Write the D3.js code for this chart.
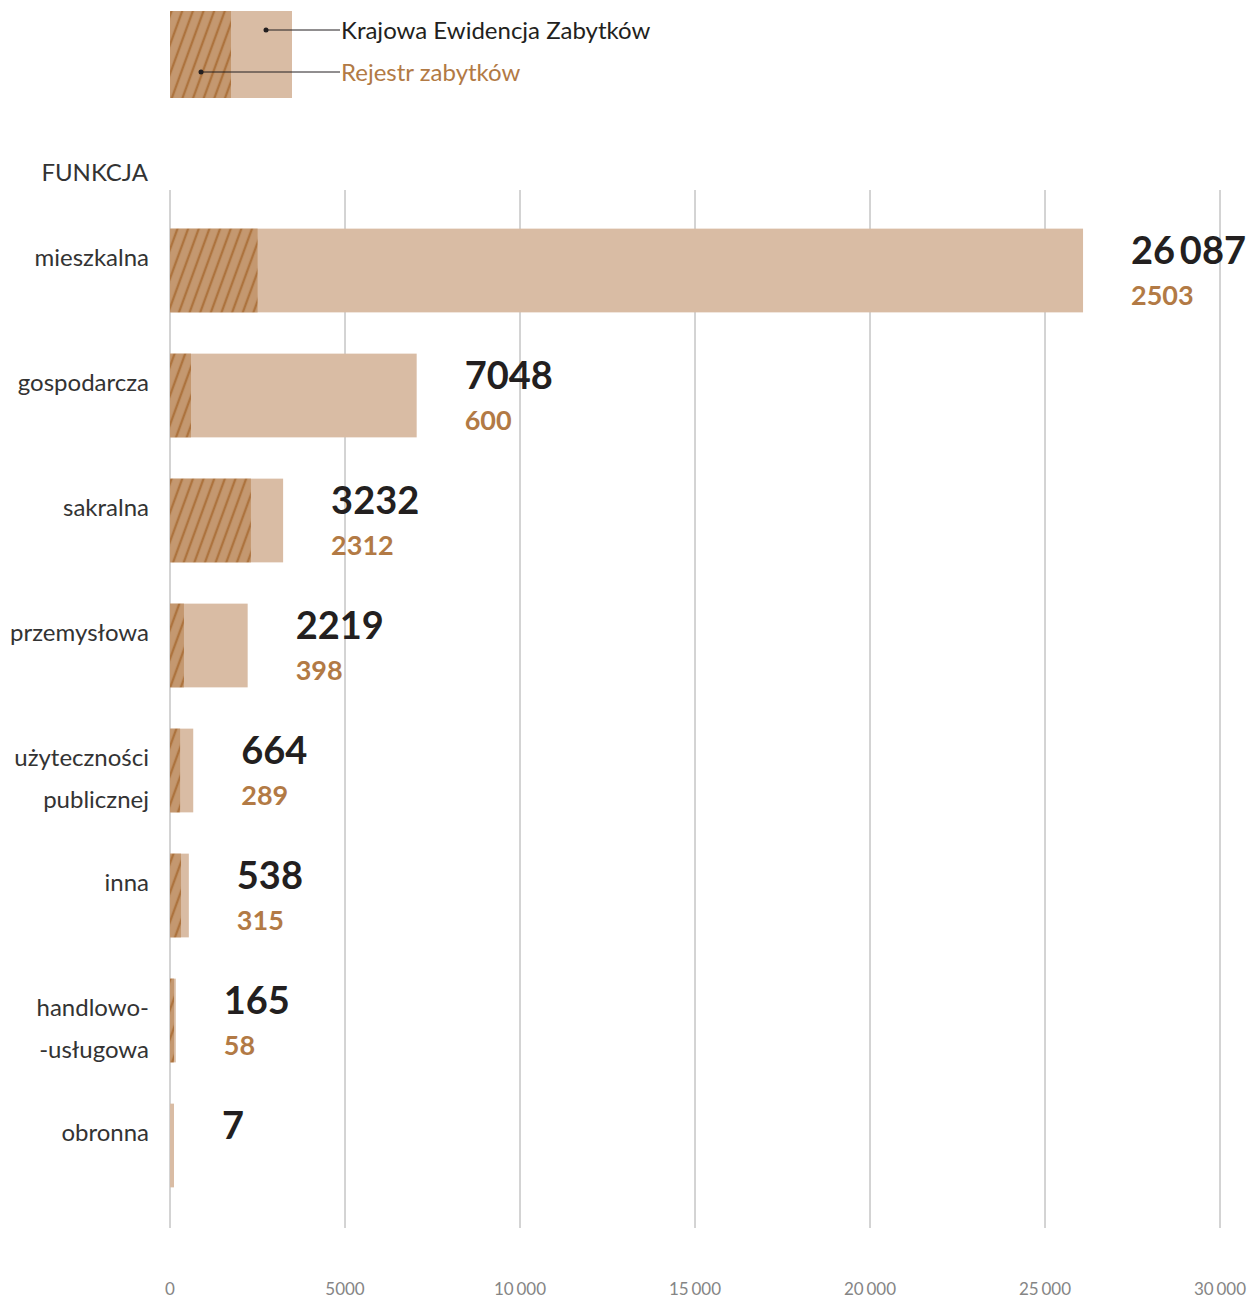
<!DOCTYPE html>
<html lang="pl">
  <head>
    <meta charset="UTF-8" />
    <title>Zabytki wg funkcji</title>
    <style>
      body { margin: 0; background: #fff; }
      svg text { font-family: Lato, "Open Sans", sans-serif; }
    </style>
  </head>
  <body>
    <svg id="chart" width="1254" height="1298"></svg>
    <script src="https://d3js.org/d3.v7.min.js"></script>
    <script>
      // dane
      var categories = [
        ["mieszkalna"],
        ["gospodarcza"],
        ["sakralna"],
        ["przemysłowa"],
        ["użyteczności", "publicznej"],
        ["inna"],
        ["handlowo-", "-usługowa"],
        ["obronna"]
      ];
      var kezValues = [26087, 7048, 3232, 2219, 664, 538, 165, 7];
      var rejestrValues = [2503, 600, 2312, 398, 289, 315, 58, null];
      var xTicks = [0, 5000, 10000, 15000, 20000, 25000, 30000];

      var light = "#d9bca4";
      var hatchBg = "#c49870";
      var hatchLine = "#ad733e";
      var orange = "#b27a45";
      var dark = "#231f20";

      var svg = d3.select("#chart");

      // wzór kreskowania
      var defs = svg.append("defs");
      var pat = defs.append("pattern")
        .attr("id", "hatch")
        .attr("patternUnits", "userSpaceOnUse")
        .attr("width", 10)
        .attr("height", 10)
        .attr("patternTransform", "rotate(20)");
      pat.append("rect").attr("width", 10).attr("height", 10).attr("fill", hatchBg);
      pat.append("line")
        .attr("x1", 5).attr("x2", 5).attr("y1", 0).attr("y2", 10)
        .attr("stroke", hatchLine).attr("stroke-width", 2.4);

      function fmt(v, sep) {
        var s = String(v);
        if (v < 10000) return s;
        return s.replace(/\B(?=(\d{3})+(?!\d))/g, sep || "\u2009");
      }

      var x = d3.scaleLinear().domain([0, 30000]).range([170, 1220]);
      var y = d3.scaleBand()
        .domain(d3.range(categories.length))
        .range([208, 1208])
        .paddingInner(0.33)
        .paddingOuter(0.165);

      // siatka
      svg.append("g")
        .selectAll("line")
        .data(xTicks)
        .join("line")
        .attr("x1", d => x(d)).attr("x2", d => x(d))
        .attr("y1", 190).attr("y2", 1228)
        .attr("stroke", "#a8a8a8")
        .attr("stroke-width", 1);

      svg.append("g")
        .selectAll("text")
        .data(xTicks)
        .join("text")
        .attr("x", d => x(d))
        .attr("y", 1295)
        .attr("text-anchor", "middle")
        .attr("font-size", 17)
        .attr("fill", "#858585")
        .text(d => fmt(d, "\u2006"));

      // słupki
      var bars = svg.append("g");
      bars.selectAll("rect.kez")
        .data(kezValues)
        .join("rect")
        .attr("class", "kez")
        .attr("x", x(0))
        .attr("y", (d, i) => y(i))
        .attr("width", d => Math.max(x(d) - x(0), 4))
        .attr("height", y.bandwidth())
        .attr("fill", light);

      bars.selectAll("rect.rej")
        .data(rejestrValues.map((v, i) => ({ v: v, i: i })).filter(d => d.v != null))
        .join("rect")
        .attr("class", "rej")
        .attr("x", x(0))
        .attr("y", d => y(d.i))
        .attr("width", d => Math.max(x(d.v) - x(0), 4))
        .attr("height", y.bandwidth())
        .attr("fill", "url(#hatch)");

      // etykiety kategorii
      svg.append("text")
        .attr("x", 148).attr("y", 181)
        .attr("text-anchor", "end")
        .attr("font-size", 24)
        .attr("fill", "#333")
        .text("FUNKCJA");

      var catG = svg.append("g");
      categories.forEach(function (lines, i) {
        var cy = y(i) + y.bandwidth() / 2;
        var t = catG.append("text")
          .attr("text-anchor", "end")
          .attr("font-size", 24)
          .attr("fill", "#333");
        lines.forEach(function (l, j) {
          t.append("tspan")
            .attr("x", 149)
            .attr("y", cy - 5 + j * 42)
            .text(l);
        });
      });

      // wartości
      var valG = svg.append("g");
      kezValues.forEach(function (v, i) {
        var cy = y(i) + y.bandwidth() / 2;
        var lx = Math.max(x(v), x(0) + 4) + 48;
        valG.append("text")
          .attr("x", lx)
          .attr("y", cy - 7)
          .attr("font-size", 38)
          .attr("font-weight", "bold")
          .attr("fill", dark)
          .text(fmt(v));
        if (rejestrValues[i] != null) {
          valG.append("text")
            .attr("x", lx)
            .attr("y", cy + 34)
            .attr("font-size", 27)
            .attr("font-weight", "bold")
            .attr("fill", orange)
            .text(fmt(rejestrValues[i]));
        }
      });

      // legenda
      var lg = svg.append("g");
      lg.append("rect").attr("x", 170).attr("y", 11).attr("width", 61).attr("height", 87).attr("fill", "url(#hatch)");
      lg.append("rect").attr("x", 231).attr("y", 11).attr("width", 61).attr("height", 87).attr("fill", light);
      var legendItems = [
        { label: "Krajowa Ewidencja Zabytków", dx: 266, dy: 30, color: dark },
        { label: "Rejestr zabytków", dx: 201, dy: 72, color: orange }
      ];
      legendItems.forEach(function (d) {
        lg.append("line")
          .attr("x1", d.dx).attr("x2", 340)
          .attr("y1", d.dy).attr("y2", d.dy)
          .attr("stroke", "#231f20").attr("stroke-width", 1);
        lg.append("circle").attr("cx", d.dx).attr("cy", d.dy).attr("r", 2.5).attr("fill", "#231f20");
        lg.append("text")
          .attr("x", 341).attr("y", d.dy + 9)
          .attr("font-size", 24)
          .attr("fill", d.color)
          .text(d.label);
      });
    </script>
  </body>
</html>
